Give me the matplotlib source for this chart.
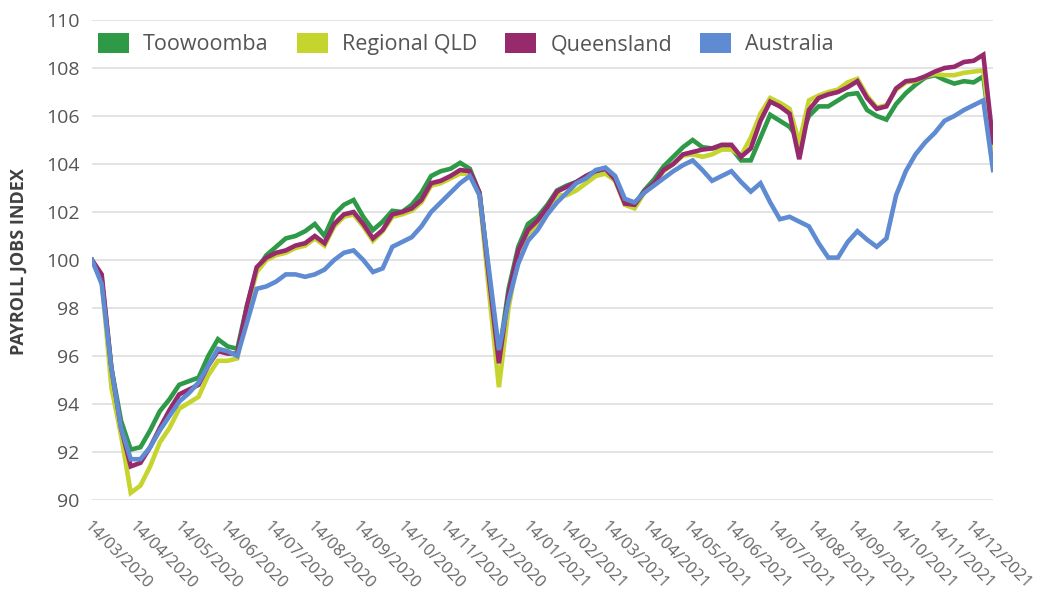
import matplotlib
matplotlib.use("Agg")
import matplotlib.pyplot as plt
from matplotlib.patches import Patch

# weekly payroll jobs index, week ending 14/03/2020 onwards
toowoomba = [100.0, 99.2, 95.5, 93.3, 92.1, 92.2, 92.9, 93.7, 94.2, 94.8,
             94.95, 95.1, 96.0, 96.7, 96.4, 96.3, 98.1, 99.6, 100.2, 100.55,
             100.9, 101.0, 101.2, 101.5, 101.0, 101.9, 102.3, 102.5, 101.8, 101.25,
             101.6, 102.05, 102.0, 102.3, 102.8, 103.5, 103.7, 103.8, 104.05, 103.8,
             102.8, 99.3, 96.0, 98.8, 100.55, 101.5, 101.8, 102.3, 102.9, 103.1,
             103.25, 103.5, 103.7, 103.8, 103.4, 102.4, 102.3, 102.9, 103.35, 103.9,
             104.3, 104.7, 105.0, 104.7, 104.65, 104.7, 104.65, 104.15, 104.15, 105.1,
             106.05, 105.8, 105.55, 105.0, 106.0, 106.4, 106.4, 106.65, 106.9, 106.95,
             106.25, 106.0, 105.85, 106.5, 106.95, 107.3, 107.6, 107.7, 107.5, 107.35,
             107.45, 107.4, 107.65, 104.45]
regional_qld = [100.0, 99.2, 94.7, 92.7, 90.3, 90.6, 91.4, 92.4, 93.0, 93.8,
                94.05, 94.3, 95.2, 95.8, 95.8, 95.9, 98.0, 99.5, 100.0, 100.2,
                100.3, 100.5, 100.6, 100.9, 100.6, 101.4, 101.8, 101.9, 101.4, 100.8,
                101.2, 101.8, 101.9, 102.05, 102.4, 103.1, 103.2, 103.4, 103.6, 103.6,
                102.7, 98.6, 94.7, 98.0, 100.2, 101.1, 101.5, 102.1, 102.7, 102.7,
                102.9, 103.2, 103.5, 103.6, 103.3, 102.3, 102.15, 102.8, 103.2, 103.7,
                104.0, 104.35, 104.4, 104.3, 104.4, 104.6, 104.6, 104.35, 105.1, 106.1,
                106.75, 106.55, 106.3, 104.9, 106.65, 106.85, 107.0, 107.1, 107.4, 107.55,
                106.85, 106.35, 106.45, 107.1, 107.4, 107.45, 107.65, 107.75, 107.7, 107.7,
                107.8, 107.85, 107.9, 104.5]
queensland = [100.0, 99.4, 95.5, 93.0, 91.4, 91.55, 92.2, 93.0, 93.75, 94.4,
              94.6, 94.8, 95.6, 96.2, 96.1, 96.1, 98.1, 99.7, 100.1, 100.3,
              100.4, 100.6, 100.7, 101.0, 100.7, 101.5, 101.9, 102.0, 101.5, 100.9,
              101.25, 101.9, 102.0, 102.15, 102.5, 103.2, 103.3, 103.5, 103.75, 103.7,
              102.8, 99.2, 95.7, 98.6, 100.4, 101.25, 101.65, 102.2, 102.85, 103.05,
              103.25, 103.5, 103.7, 103.8, 103.35, 102.35, 102.3, 102.85, 103.2, 103.75,
              104.0, 104.4, 104.5, 104.6, 104.65, 104.8, 104.8, 104.3, 104.65, 105.8,
              106.6, 106.4, 106.1, 104.2, 106.25, 106.75, 106.9, 107.0, 107.2, 107.45,
              106.75, 106.3, 106.4, 107.15, 107.45, 107.5, 107.65, 107.85, 108.0, 108.05,
              108.25, 108.3, 108.55, 104.9]
australia = [100.0, 99.0, 95.5, 93.0, 91.7, 91.7, 92.2, 92.9, 93.5, 94.1,
             94.45, 94.9, 95.6, 96.3, 96.2, 96.0, 97.4, 98.8, 98.9, 99.1,
             99.4, 99.4, 99.3, 99.4, 99.6, 100.0, 100.3, 100.4, 100.0, 99.5,
             99.65, 100.55, 100.75, 100.95, 101.4, 102.0, 102.4, 102.8, 103.2, 103.5,
             102.7, 99.5, 96.25, 98.3, 99.85, 100.8, 101.25, 101.9, 102.4, 102.8,
             103.2, 103.4, 103.75, 103.85, 103.5, 102.55, 102.4, 102.8, 103.1, 103.4,
             103.7, 103.95, 104.15, 103.75, 103.3, 103.5, 103.7, 103.25, 102.85, 103.2,
             102.4, 101.7, 101.8, 101.6, 101.4, 100.7, 100.1, 100.1, 100.75, 101.2,
             100.85, 100.55, 100.9, 102.7, 103.7, 104.4, 104.9, 105.3, 105.8, 106.0,
             106.25, 106.45, 106.65, 103.75]

tick_labels = ["14/03/2020", "14/04/2020", "14/05/2020", "14/06/2020", "14/07/2020",
               "14/08/2020", "14/09/2020", "14/10/2020", "14/11/2020", "14/12/2020",
               "14/01/2021", "14/02/2021", "14/03/2021", "14/04/2021", "14/05/2021",
               "14/06/2021", "14/07/2021", "14/08/2021", "14/09/2021", "14/10/2021",
               "14/11/2021", "14/12/2021"]
# where the original chart put each label, in weeks from the start
tick_pos = [0, 4.64, 9.29, 13.93, 18.58, 23.0, 27.66, 32.3, 36.6, 40.6, 45.2,
            49.0, 53.4, 57.5, 61.7, 66.0, 70.4, 74.5, 78.7, 83.1, 87.0, 90.8]

series = [
    ("Toowoomba", toowoomba, "#2e9a48"),
    ("Regional QLD", regional_qld, "#c6d42e"),
    ("Queensland", queensland, "#972a6d"),
    ("Australia", australia, "#5f8bd2"),
]

plt.rcParams['font.family'] = ['Open Sans', 'DejaVu Sans']

fig = plt.figure(figsize=(10.41, 5.96), dpi=100)
ax = fig.add_axes([92 / 1041, 96 / 596, 901 / 1041, 480 / 596])

weeks = list(range(len(australia)))
for name, vals, col in series:
    ax.plot(weeks, vals, color=col, lw=3.3, solid_joinstyle="miter", label=name, zorder=3)

ax.set_xlim(0, len(australia) - 1)
ax.set_ylim(90, 110)
ax.set_yticks(range(90, 111, 2))
ax.grid(axis="y", color="#e3e3e3", lw=1.4, zorder=0)
for s in ax.spines.values():
    s.set_visible(False)
ax.tick_params(axis="both", length=0, colors="#555555")
ax.tick_params(axis="y", labelsize=14, pad=9)

ax.set_xticks(tick_pos)
ax.set_xticklabels(tick_labels, rotation=-45, ha="left", va="top",
                   rotation_mode="anchor", fontsize=12, color="#666666")
ax.tick_params(axis="x", pad=13)

fig.text(19 / 1041, 1 - 262 / 596, "PAYROLL JOBS INDEX", rotation=90,
         ha="center", va="center", fontsize=13, fontweight="bold", color="#404040")

handles = [Patch(facecolor=col, edgecolor="none") for _, _, col in series]
fig.legend(handles, [n for n, _, _ in series], loc="center left",
           bbox_to_anchor=(98 / 1041, 1 - 44 / 596), ncol=4, frameon=False,
           fontsize=15.5, handlelength=1.45, handleheight=1.05, handletextpad=0.65,
           columnspacing=1.3, borderpad=0, borderaxespad=0, labelcolor="#555555")

fig.savefig("out.png", dpi=100)
